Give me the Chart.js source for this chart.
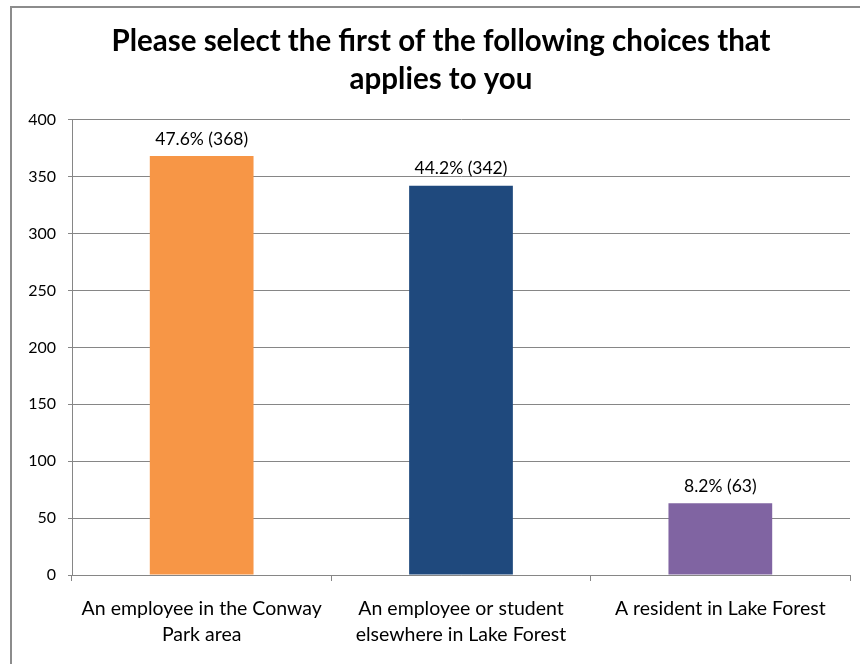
<!DOCTYPE html>
<html>
<head>
<meta charset="utf-8">
<script src="https://cdn.jsdelivr.net/npm/chart.js@4"></script>
<style>
    html, body { margin: 0; padding: 0; background: #fff; overflow: hidden; }
    #frame {
        position: absolute; left: 10px; top: 6px; width: 900px; height: 700px;
        border-left: 2px solid #8c8c8c; border-top: 2px solid #8c8c8c;
    }
    #wrap { position: absolute; left: 0; top: 0; width: 880px; height: 664px; }
</style>
</head>
<body>
<div id="frame"></div>
<div id="wrap"><canvas id="choiceChart"></canvas></div>
<script>
const categories = [
    ['An employee in the Conway', 'Park area'],
    ['An employee or student', 'elsewhere in Lake Forest'],
    'A resident in Lake Forest'
];
const counts = [368, 342, 63];
const percents = [47.6, 44.2, 8.2];
const barColors = ['#F79646', '#1F497D', '#8064A2'];

const FONT = 'Lato, "Open Sans", sans-serif';
const GRID = '#868686';

// writes "xx.x% (n)" above each bar
const valueLabels = {
    id: 'valueLabels',
    afterDatasetsDraw(chart) {
        const ctx = chart.ctx;
        const meta = chart.getDatasetMeta(0);
        ctx.save();
        ctx.font = '17.5px ' + FONT;
        ctx.fillStyle = '#000';
        ctx.textAlign = 'center';
        ctx.textBaseline = 'middle';
        meta.data.forEach((bar, i) => {
            ctx.fillText(percents[i].toFixed(1) + '% (' + counts[i] + ')', bar.x, bar.y - 17);
        });
        ctx.restore();
    }
};

const ctx = document.getElementById('choiceChart').getContext('2d');
new Chart(ctx, {
    type: 'bar',
    data: {
        labels: categories,
        datasets: [{
            data: counts,
            backgroundColor: barColors,
            borderWidth: 0,
            categoryPercentage: 1,
            barPercentage: 0.4
        }]
    },
    options: {
        responsive: true,
        maintainAspectRatio: false,
        animation: false,
        layout: { padding: { left: 22, right: 20, top: 0, bottom: 0 } },
        plugins: {
            legend: { display: false },
            tooltip: { enabled: false },
            title: {
                display: true,
                text: ['Please select the first of the following choices that', 'applies to you'],
                color: '#000',
                font: { family: FONT, size: 29.5, weight: 'bold', lineHeight: 1.3 },
                padding: { top: 22, bottom: 21 }
            }
        },
        scales: {
            x: {
                afterFit: (scale) => { scale.height = 89; },
                grid: {
                    offset: true,
                    drawOnChartArea: false,
                    drawTicks: true,
                    tickLength: 6,
                    color: GRID
                },
                border: { color: GRID, width: 1 },
                ticks: {
                    color: '#000',
                    font: { family: FONT, size: 19.5, lineHeight: 1.33 },
                    maxRotation: 0,
                    autoSkip: false,
                    padding: 15
                }
            },
            y: {
                min: 0,
                max: 400,
                afterFit: (scale) => { scale.width = 50; },
                grid: {
                    color: GRID,
                    tickLength: 4
                },
                border: { color: GRID, width: 1 },
                ticks: {
                    stepSize: 50,
                    color: '#000',
                    font: { family: FONT, size: 16 },
                    padding: 12
                }
            },
            // empty right-hand gutter so the plot ends short of the canvas edge
            gutter: {
                position: 'right',
                afterFit: (scale) => { scale.width = 10; },
                grid: { display: false },
                border: { display: false },
                ticks: { display: false }
            }
        }
    },
    plugins: [valueLabels]
});
</script>
</body>
</html>
